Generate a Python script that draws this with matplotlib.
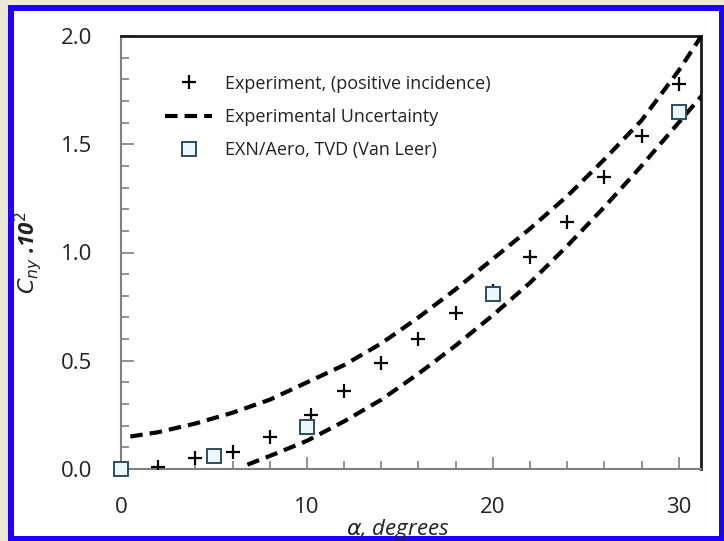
import matplotlib
matplotlib.use('Agg')
import matplotlib.pyplot as plt
from matplotlib.patches import Rectangle

plt.rcParams['font.family'] = ['Open Sans', 'DejaVu Sans']

# -------------------- 数据 --------------------
# Experiment (positive incidence)
exp_alpha = [2, 4, 6, 8, 10.2, 12, 14, 16, 18, 20, 22, 24, 26, 28, 30]
exp_cny = [0.01, 0.05, 0.08, 0.15, 0.25, 0.36, 0.49, 0.60, 0.72, 0.82, 0.98, 1.14, 1.35, 1.54, 1.78]

# EXN/Aero, TVD (Van Leer)
exn_alpha = [0, 5, 10, 20, 30]
exn_cny = [0.0, 0.06, 0.195, 0.81, 1.65]

# Experimental uncertainty bounds
upper_alpha = [0.5, 2, 4, 6, 8, 10, 12, 14, 16, 18, 20, 22, 24, 26, 28, 30, 31.3]
upper_cny = [0.15, 0.17, 0.21, 0.26, 0.32, 0.40, 0.48, 0.58, 0.70, 0.83, 0.97, 1.11, 1.26, 1.43, 1.61, 1.84, 2.01]
lower_alpha = [6.8, 8, 10, 12, 14, 16, 18, 20, 22, 24, 26, 28, 30, 31.3]
lower_cny = [0.02, 0.06, 0.13, 0.22, 0.32, 0.44, 0.57, 0.71, 0.86, 1.03, 1.21, 1.40, 1.60, 1.73]

# -------------------- 画布 --------------------
W, H = 724, 541
fig = plt.figure(figsize=(W / 100, H / 100), dpi=100)
fig.patch.set_facecolor('#ece9d8')
# 蓝色边框 + 白色底
fig.patches.append(Rectangle((8 / W, 0), 1 - 8 / W, 1 - 5 / H, transform=fig.transFigure,
                             facecolor='#1e00ff', edgecolor='none', zorder=-10))
fig.patches.append(Rectangle((14 / W, 5 / H), 1 - 19 / W, 1 - 16 / H, transform=fig.transFigure,
                             facecolor='white', edgecolor='none', zorder=-9))

ax = fig.add_axes([121 / W, 1 - 469 / H, 580 / W, 433 / H])
ax.set_zorder(1)
ax.set_facecolor('white')

ax.plot(exp_alpha, exp_cny, linestyle='none', marker='+', markersize=10, mew=1.6,
        color='black', label='Experiment, (positive incidence)', zorder=4)
ax.plot(upper_alpha, upper_cny, color='black', lw=3, dashes=(3, 1.7),
        label='Experimental Uncertainty', zorder=3)
ax.plot(lower_alpha, lower_cny, color='black', lw=3, dashes=(3, 1.7), zorder=3)
ax.plot(exn_alpha, exn_cny, linestyle='none', marker='s', markersize=10.5, mew=1.4,
        markerfacecolor='#eaf8fb', markeredgecolor='#2e4d5a',
        label='EXN/Aero, TVD (Van Leer)', zorder=5, clip_on=False)

ax.set_xlim(0, 31.2)
ax.set_ylim(0, 2.0)
ax.set_xticks([0, 10, 20, 30])
ax.set_xticks(range(0, 32, 2), minor=True)
ax.set_yticks([0.0, 0.5, 1.0, 1.5, 2.0])
ax.set_yticklabels(['0.0', '0.5', '1.0', '1.5', '2.0'])
ax.set_yticks([i / 10 for i in range(21)], minor=True)

ax.tick_params(which='both', direction='in', colors='#808080', labelcolor='#222222',
               labelsize=16, pad=20)
ax.tick_params(which='major', length=9, width=1.2)
ax.tick_params(which='minor', length=6, width=1.2)
ax.tick_params(axis='y', pad=21)

for s in ['left', 'bottom']:
    ax.spines[s].set_color('#808080')
    ax.spines[s].set_linewidth(1.5)
for s in ['top', 'right']:
    ax.spines[s].set_color('#1a1a1a')
    ax.spines[s].set_linewidth(2)

ax.set_xlabel(r'$\alpha$, degrees', fontsize=16, style='italic', color='#222222')
ax.xaxis.set_label_coords(0.478, -0.112)
ax.set_ylabel(r'$C_{ny}$ .10$^{2}$', fontsize=16, fontweight='bold', style='italic', color='#222222')
ax.yaxis.set_label_coords(-0.132, 0.5)

leg = ax.legend(loc='upper left', bbox_to_anchor=(0.076, 0.911), frameon=False,
                fontsize=13, handlelength=2.6, handletextpad=0.7, labelspacing=0.85,
                borderpad=0, borderaxespad=0)
for t in leg.get_texts():
    t.set_color('#222222')

fig.savefig('out.png', dpi=100, facecolor=fig.get_facecolor())
